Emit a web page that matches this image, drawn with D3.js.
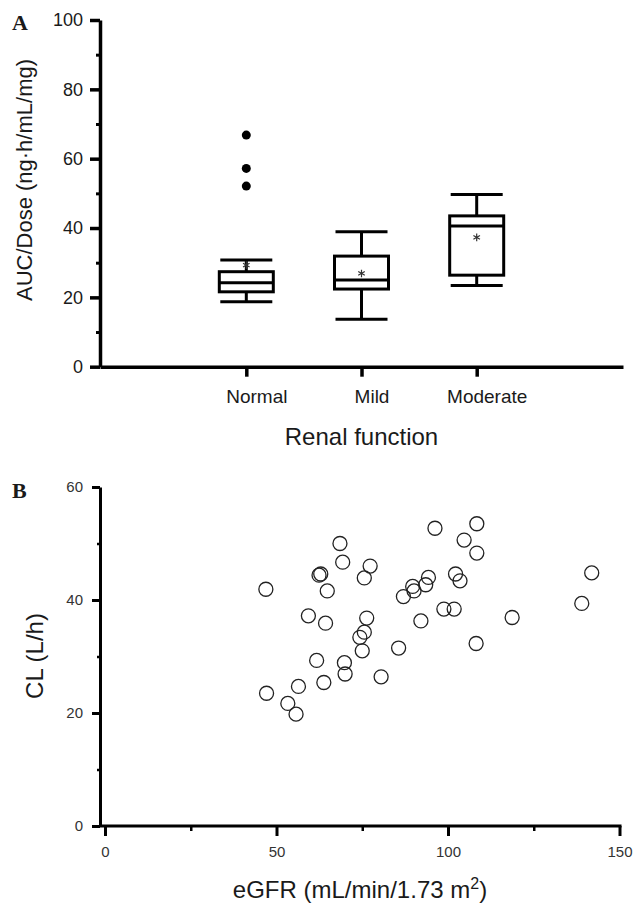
<!DOCTYPE html>
<html>
<head>
<meta charset="utf-8">
<script src="https://cdn.jsdelivr.net/npm/d3@7"></script>
<style>
  body { margin: 0; background: #fff; }
  svg text { font-family: Arial, "Liberation Sans", sans-serif; fill: #1a1a1a; }
</style>
</head>
<body>
<script>
// panel A: AUC/Dose box plots by renal function group
const categories = ["Normal", "Mild", "Moderate"];
const whiskerLow  = [18.7, 13.7, 23.4];
const q1          = [21.6, 22.4, 26.4];
const medians     = [24.2, 25.0, 40.6];
const q3          = [27.4, 31.9, 43.5];
const whiskerHigh = [30.8, 38.9, 49.7];
const means       = [29.3, 26.9, 37.3];
const outlierGroup  = ["Normal", "Normal", "Normal"];
const outlierValues = [66.8, 57.2, 52.1];
const yTicksA = [0, 20, 40, 60, 80, 100];
const yMinorA = [10, 30, 50, 70, 90];

// panel B: CL vs eGFR
const egfr = [46.9, 47.1, 53.3, 55.7, 56.4, 59.3, 61.7, 62.4, 62.9, 64.8, 63.8, 64.3,
              68.5, 69.3, 69.8, 70.0, 74.3, 75.0, 75.6, 76.3, 75.6, 77.3, 80.5, 85.6,
              87.0, 89.7, 90.1, 92.1, 93.5, 94.3, 96.2, 98.8, 101.8, 102.2, 103.5, 104.7,
              108.4, 108.4, 108.2, 118.7, 139.0, 141.9];
const clValues = [41.9, 23.5, 21.7, 19.8, 24.7, 37.2, 29.3, 44.4, 44.6, 41.6, 25.4, 35.9,
              50.0, 46.7, 28.9, 26.9, 33.4, 31.0, 34.3, 36.8, 43.9, 46.0, 26.4, 31.5,
              40.6, 42.4, 41.6, 36.3, 42.7, 44.0, 52.7, 38.4, 38.4, 44.6, 43.4, 50.6,
              53.5, 48.3, 32.3, 36.9, 39.4, 44.8];
const xTicksB = [0, 50, 100, 150];
const xMinorB = [25, 75, 125];
const yTicksB = [0, 20, 40, 60];
const yMinorB = [10, 30, 50];

const svg = d3.select("body").append("svg")
    .attr("width", 633)
    .attr("height", 903);

// thick black axis strokes
function heavy(g, w) {
    g.selectAll("line, path").attr("stroke", "#000").attr("stroke-width", w);
}

// ---------- Panel A ----------
const yA = d3.scaleLinear().domain([0, 100]).range([366.7, 20]);
const xA = d3.scalePoint().domain(categories).range([100, 623]).padding(1.27);

const gA = svg.append("g");

gA.append("g")
    .attr("transform", "translate(100,0)")
    .call(d3.axisLeft(yA).tickValues(yMinorA).tickSize(4).tickFormat(""))
    .call(g => g.select(".domain").remove())
    .call(heavy, 3);

gA.append("g")
    .attr("transform", "translate(100,0)")
    .call(d3.axisLeft(yA).tickValues(yTicksA).tickSize(10).tickSizeOuter(0).tickPadding(7))
    .call(heavy, 3.5)
    .call(g => g.selectAll("text").style("font-size", "18px"));

gA.append("g")
    .attr("transform", "translate(0,366.7)")
    .call(d3.axisBottom(xA).tickSize(10).tickSizeOuter(0).tickPadding(13))
    .call(heavy, 3.5)
    .call(g => g.selectAll("text").style("font-size", "19px").attr("x", 10));

const boxW = 27, capW = 26;
const boxes = gA.selectAll(".box")
    .data(categories)
    .enter().append("g")
    .attr("class", "box")
    .attr("stroke", "#000")
    .attr("stroke-width", 3)
    .attr("fill", "none");

boxes.append("line")
    .attr("x1", d => xA(d)).attr("x2", d => xA(d))
    .attr("y1", (d, i) => yA(whiskerHigh[i])).attr("y2", (d, i) => yA(q3[i]));
boxes.append("line")
    .attr("x1", d => xA(d)).attr("x2", d => xA(d))
    .attr("y1", (d, i) => yA(q1[i])).attr("y2", (d, i) => yA(whiskerLow[i]));
boxes.append("line")
    .attr("x1", d => xA(d) - capW).attr("x2", d => xA(d) + capW)
    .attr("y1", (d, i) => yA(whiskerHigh[i])).attr("y2", (d, i) => yA(whiskerHigh[i]));
boxes.append("line")
    .attr("x1", d => xA(d) - capW).attr("x2", d => xA(d) + capW)
    .attr("y1", (d, i) => yA(whiskerLow[i])).attr("y2", (d, i) => yA(whiskerLow[i]));
boxes.append("rect")
    .attr("x", d => xA(d) - boxW)
    .attr("width", boxW * 2)
    .attr("y", (d, i) => yA(q3[i]))
    .attr("height", (d, i) => yA(q1[i]) - yA(q3[i]));
boxes.append("line")
    .attr("x1", d => xA(d) - boxW).attr("x2", d => xA(d) + boxW)
    .attr("y1", (d, i) => yA(medians[i])).attr("y2", (d, i) => yA(medians[i]));

// mean markers
gA.selectAll(".mean")
    .data(categories)
    .enter().append("path")
    .attr("class", "mean")
    .attr("d", d3.symbol(d3.symbolAsterisk, 40))
    .attr("transform", (d, i) => "translate(" + xA(d) + "," + yA(means[i]) + ")")
    .attr("fill", "none")
    .attr("stroke", "#333")
    .attr("stroke-width", 1.2);

gA.selectAll(".outlier")
    .data(outlierValues)
    .enter().append("circle")
    .attr("class", "outlier")
    .attr("cx", (d, i) => xA(outlierGroup[i]))
    .attr("cy", d => yA(d))
    .attr("r", 4.5)
    .attr("fill", "#000");

gA.append("text")
    .attr("x", 361.5).attr("y", 445)
    .attr("text-anchor", "middle")
    .style("font-size", "24px")
    .text("Renal function");

gA.append("text")
    .attr("transform", "translate(32,180) rotate(-90)")
    .attr("text-anchor", "middle")
    .style("font-size", "22px")
    .text("AUC/Dose (ng\u00b7h/mL/mg)");

gA.append("text")
    .attr("x", 12).attr("y", 30)
    .style("font-family", "'Liberation Serif', 'Times New Roman', serif")
    .style("font-weight", "bold")
    .style("font-size", "22px")
    .text("A");

// ---------- Panel B ----------
const xB = d3.scaleLinear().domain([0, 150]).range([105, 619.5]);
const yB = d3.scaleLinear().domain([0, 60]).range([826, 487]);
const yAxisX = xB(0) - 5;

const gB = svg.append("g");

// x axis line runs from the y axis to just past 150
gB.append("line")
    .attr("x1", yAxisX).attr("x2", xB(150) + 2)
    .attr("y1", yB(0)).attr("y2", yB(0))
    .attr("stroke", "#000").attr("stroke-width", 3);

gB.append("g")
    .attr("transform", "translate(0," + yB(0) + ")")
    .call(d3.axisBottom(xB).tickValues(xMinorB).tickSize(5).tickFormat(""))
    .call(g => g.select(".domain").remove())
    .call(heavy, 2.5);

gB.append("g")
    .attr("transform", "translate(0," + yB(0) + ")")
    .call(d3.axisBottom(xB).tickValues(xTicksB).tickSize(10).tickPadding(10))
    .call(g => g.select(".domain").remove())
    .call(heavy, 3)
    .call(g => g.selectAll("text").style("font-size", "15px").style("fill", "#333"));

gB.append("g")
    .attr("transform", "translate(" + yAxisX + ",0)")
    .call(d3.axisLeft(yB).tickValues(yMinorB).tickSize(3).tickFormat(""))
    .call(g => g.select(".domain").remove())
    .call(heavy, 2.5);

gB.append("g")
    .attr("transform", "translate(" + yAxisX + ",0)")
    .call(d3.axisLeft(yB).tickValues(yTicksB).tickSize(8).tickSizeOuter(0).tickPadding(9))
    .call(heavy, 3)
    .call(g => g.selectAll("text").style("font-size", "15px").style("fill", "#333"));

gB.selectAll(".pt")
    .data(egfr)
    .enter().append("circle")
    .attr("class", "pt")
    .attr("cx", d => xB(d))
    .attr("cy", (d, i) => yB(clValues[i]))
    .attr("r", 7)
    .attr("fill", "none")
    .attr("stroke", "#222")
    .attr("stroke-width", 1.3);

const xt = gB.append("text")
    .attr("x", 360).attr("y", 898)
    .attr("text-anchor", "middle")
    .style("font-size", "24px");
xt.append("tspan").text("eGFR (mL/min/1.73 m");
xt.append("tspan").attr("dy", -9).style("font-size", "16px").text("2");
xt.append("tspan").attr("dy", 9).text(")");

gB.append("text")
    .attr("transform", "translate(43,656) rotate(-90)")
    .attr("text-anchor", "middle")
    .style("font-size", "24px")
    .text("CL (L/h)");

gB.append("text")
    .attr("x", 12).attr("y", 498)
    .style("font-family", "'Liberation Serif', 'Times New Roman', serif")
    .style("font-weight", "bold")
    .style("font-size", "22px")
    .text("B");
</script>
</body>
</html>
